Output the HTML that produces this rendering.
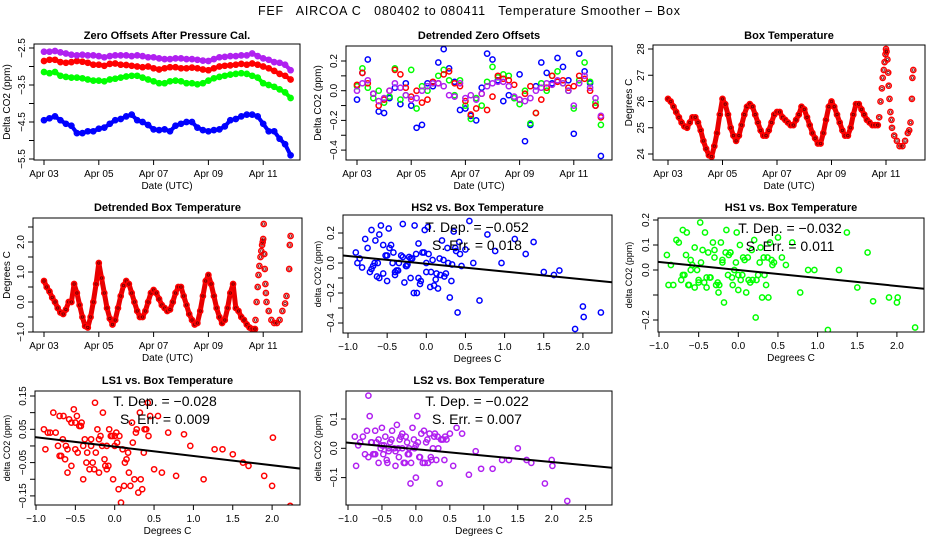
<!DOCTYPE html>
<html><head><meta charset="utf-8"><style>
html,body{margin:0;padding:0;background:#fff}
svg{display:block;font-family:"Liberation Sans",sans-serif}
</style></head><body>
<svg id="chart" width="936" height="540" viewBox="0 0 936 540" xmlns="http://www.w3.org/2000/svg">
<rect width="936" height="540" fill="#fff"/>
<text x="469" y="15" text-anchor="middle" font-size="12.5" textLength="422" style="white-space:pre">FEF   AIRCOA C   080402 to 080411   Temperature Smoother – Box</text>
</svg>
<script>
// ---------- data ----------
const dateTicks = [0, 2, 4, 6, 8];
const dateTickLabels = ["Apr 03", "Apr 05", "Apr 07", "Apr 09", "Apr 11"];
const offTimes = [0,0.2,0.4,0.6,0.8,1,1.2,1.4,1.6,1.8,2,2.2,2.4,2.6,2.8,3,3.2,3.4,3.6,3.8,4,4.2,4.4,4.6,4.8,5,5.2,5.4,5.6,5.8,6,6.2,6.4,6.6,6.8,7,7.2,7.4,7.6,7.8,8,8.2,8.4,8.6,8.8,9];
const zeroLS2 = [-2.6,-2.6,-2.58,-2.62,-2.65,-2.68,-2.7,-2.68,-2.7,-2.7,-2.72,-2.75,-2.72,-2.7,-2.7,-2.7,-2.72,-2.7,-2.72,-2.75,-2.75,-2.78,-2.8,-2.8,-2.78,-2.78,-2.8,-2.8,-2.82,-2.84,-2.85,-2.8,-2.75,-2.74,-2.72,-2.72,-2.7,-2.7,-2.65,-2.72,-2.78,-2.82,-2.88,-2.9,-2.95,-3.1];
const zeroLS1 = [-2.85,-2.82,-2.82,-2.88,-2.9,-2.88,-2.85,-2.87,-2.9,-2.95,-2.95,-2.98,-2.93,-2.92,-2.95,-2.96,-2.98,-3.0,-3.02,-3.0,-3.05,-3.08,-3.05,-3.02,-3.02,-3.05,-3.05,-3.03,-3.05,-3.08,-3.1,-3.05,-3.0,-2.98,-2.97,-2.95,-2.93,-2.95,-2.92,-2.95,-3.0,-3.05,-3.12,-3.2,-3.25,-3.35];
const zeroHS1 = [-3.15,-3.18,-3.15,-3.25,-3.28,-3.3,-3.3,-3.32,-3.35,-3.38,-3.38,-3.4,-3.35,-3.33,-3.3,-3.27,-3.25,-3.25,-3.3,-3.35,-3.4,-3.45,-3.45,-3.4,-3.38,-3.4,-3.45,-3.45,-3.48,-3.45,-3.38,-3.32,-3.28,-3.25,-3.22,-3.2,-3.18,-3.2,-3.25,-3.3,-3.45,-3.5,-3.55,-3.62,-3.7,-3.85];
const zeroHS2 = [-4.45,-4.4,-4.35,-4.45,-4.55,-4.6,-4.8,-4.8,-4.75,-4.75,-4.68,-4.65,-4.55,-4.45,-4.42,-4.35,-4.3,-4.45,-4.5,-4.58,-4.7,-4.72,-4.7,-4.75,-4.6,-4.55,-4.5,-4.5,-4.65,-4.72,-4.75,-4.72,-4.7,-4.62,-4.45,-4.42,-4.35,-4.3,-4.3,-4.35,-4.55,-4.75,-4.75,-4.95,-5.1,-5.4];
const detHS2 = [-0.06,0.12,0.21,-0.02,-0.14,-0.15,-0.05,0.02,-0.09,0.05,-0.1,-0.25,-0.23,0.05,0.03,0.19,0.28,0.15,0.06,-0.13,-0.12,-0.17,-0.2,0.02,0.25,0.21,0.07,-0.07,-0.03,-0.05,0.11,-0.34,-0.23,0.03,0.19,0.12,0.05,0.22,0.16,0.07,-0.29,0.25,0.13,0.05,-0.1,-0.44];
const detLS1 = [0.04,0.12,0.05,-0.02,-0.1,-0.06,0.0,0.14,0.11,0.02,-0.04,0.0,-0.08,-0.06,0.06,0.05,0.11,0.13,0.05,0.03,-0.07,-0.16,-0.12,-0.02,-0.13,-0.04,0.1,0.08,0.07,0.04,-0.06,-0.02,0.03,-0.15,-0.06,0.02,0.1,0.06,0.07,0.02,0.03,0.1,0.08,0.0,-0.1,-0.18];
const detHS1 = [0.03,0.15,0.02,-0.05,0.0,-0.08,-0.04,0.15,-0.06,-0.03,0.14,-0.12,0.03,0.0,0.05,0.1,0.14,0.07,-0.03,0.07,-0.1,-0.19,-0.05,-0.1,0.06,0.16,0.09,0.11,0.1,-0.05,-0.09,0.0,-0.22,-0.15,0.05,0.0,0.1,0.13,0.05,0.0,-0.12,0.07,0.19,0.06,-0.08,-0.23];
const detLS2 = [0.0,0.05,0.07,-0.02,-0.07,-0.05,0.0,0.05,0.02,-0.03,-0.06,-0.05,0.0,0.03,0.05,0.05,0.03,-0.03,-0.04,0.05,-0.05,-0.03,-0.06,-0.02,0.03,0.05,0.06,0.06,0.03,-0.04,-0.06,-0.07,-0.05,0.0,0.02,0.05,0.04,0.07,0.05,0.0,-0.1,0.05,0.1,0.02,-0.05,-0.17];
const tempTimes = [0,0.1,0.2,0.3,0.4,0.5,0.6,0.7,0.8,0.9,1,1.1,1.2,1.3,1.4,1.5,1.6,1.7,1.8,1.9,2,2.1,2.2,2.3,2.4,2.5,2.6,2.7,2.8,2.9,3,3.1,3.2,3.3,3.4,3.5,3.6,3.7,3.8,3.9,4,4.1,4.2,4.3,4.4,4.5,4.6,4.7,4.8,4.9,5,5.1,5.2,5.3,5.4,5.5,5.6,5.7,5.8,5.9,6,6.1,6.2,6.3,6.4,6.5,6.6,6.7,6.8,6.9,7,7.1,7.2,7.3,7.4,7.5,7.6,7.7];
const boxTemp = [26.1,26.0,25.8,25.6,25.4,25.2,25.05,25.0,25.2,25.4,25.4,25.2,24.9,24.5,24.2,23.95,23.9,24.3,24.8,25.5,26.1,25.9,25.5,25.0,24.7,24.5,24.7,25.1,25.5,25.8,25.9,25.8,25.5,25.2,24.9,24.7,24.7,24.9,25.2,25.5,25.6,25.6,25.4,25.3,25.2,25.1,25.1,25.3,25.5,25.8,25.7,25.4,25.1,24.8,24.6,24.4,24.4,24.8,25.3,25.8,26.0,25.8,25.5,25.2,24.9,24.7,24.7,25.0,25.5,25.9,25.9,25.7,25.5,25.3,25.2,25.1,25.1,25.1];
const spikeTimes = [7.75,7.8,7.85,7.88,7.92,7.95,7.98,8.0,8.02,8.05,8.08,8.1,8.13,8.16,8.2,8.22,8.3,8.4,8.5,8.6,8.7,8.8,8.85,8.9,8.95,8.97,9.0];
const spikeTemp = [25.4,26.0,26.5,26.9,27.2,27.5,27.8,28.0,27.9,27.6,27.1,26.6,26.1,25.6,25.3,25.0,24.7,24.5,24.3,24.3,24.5,24.8,24.9,25.2,26.1,26.9,27.2];
const detTemp = [0.7,0.5,0.35,0.15,0.0,-0.2,-0.35,-0.4,-0.25,0.0,0.0,0.6,0.3,-0.1,-0.5,-0.8,-0.85,-0.5,0.0,0.6,1.3,0.8,0.3,-0.2,-0.55,-0.75,-0.6,-0.2,0.2,0.55,0.7,0.6,0.3,0.0,-0.3,-0.5,-0.5,-0.3,0.0,0.3,0.4,0.3,0.1,-0.1,-0.2,-0.3,-0.25,0.0,0.3,0.5,0.5,0.2,-0.1,-0.4,-0.6,-0.75,-0.7,-0.3,0.2,0.7,0.9,0.6,0.2,-0.2,-0.5,-0.7,-0.6,-0.2,0.3,0.6,-0.2,-0.3,-0.5,-0.6,-0.75,-0.85,-0.9,-0.9];
const detSpikeTimes = [7.72,7.76,7.8,7.83,7.86,7.9,7.93,7.96,7.98,8.0,8.02,8.04,8.06,8.08,8.1,8.12,8.2,8.3,8.4,8.5,8.6,8.7,8.8,8.85,8.95,8.97,9.0];
const detSpikeTemp = [-0.6,0.0,0.5,0.9,1.2,1.5,1.7,1.9,2.0,2.1,2.6,1.6,1.1,0.6,0.3,0.0,-0.3,-0.6,-0.7,-0.7,-0.6,-0.3,-0.05,0.2,1.1,1.9,2.2];
const scatterTemp = [-0.9,-0.88,-0.82,-0.78,-0.75,-0.72,-0.7,-0.68,-0.65,-0.63,-0.6,-0.58,-0.55,-0.52,-0.5,-0.48,-0.45,-0.42,-0.4,-0.38,-0.35,-0.32,-0.3,-0.28,-0.25,-0.22,-0.2,-0.18,-0.15,-0.12,-0.1,-0.08,-0.05,-0.02,0.0,0.02,0.05,0.08,0.1,0.12,0.15,0.18,0.2,0.22,0.25,0.28,0.3,0.32,0.35,0.38,0.4,0.42,0.45,0.5,0.55,0.6,0.68,0.78,0.88,0.96,1.13,1.27,1.37,1.5,1.63,1.7,1.9,2.0,2.01,2.23,-0.85,-0.7,-0.66,-0.6,-0.55,-0.47,-0.43,-0.36,-0.3,-0.26,-0.2,-0.16,-0.13,-0.07,-0.03,0.03,0.06,0.13,0.17,0.23,0.27,0.33,0.37,0.43,-0.62,-0.5,-0.4,-0.24,-0.1,0.0];
const scatHS2 = [0.07,0.0,-0.03,0.16,0.1,-0.06,0.22,-0.02,0.15,-0.09,0.19,0.25,-0.07,0.05,-0.12,0.23,0.12,0.07,-0.08,-0.05,0.0,0.05,0.26,-0.13,-0.02,0.04,-0.1,0.03,0.25,-0.2,0.13,-0.14,0.07,0.22,-0.06,0.24,-0.16,0.02,-0.15,-0.11,-0.17,-0.08,0.15,0.02,-0.07,0.0,-0.23,-0.12,0.21,0.08,-0.33,0.14,-0.02,0.09,0.28,0.0,-0.25,0.19,0.08,0.0,0.16,0.06,0.14,-0.06,-0.08,-0.05,-0.44,-0.29,-0.36,-0.33,0.03,-0.04,0.0,-0.1,0.12,0.1,0.0,-0.05,0.04,-0.02,0.03,-0.2,0.06,-0.12,0.07,0.06,-0.06,-0.07,0.03,-0.09,0.1,-0.01,0.1,0.06,0.0,0.05,-0.06,-0.01,-0.1,0.0];
const scatHS1 = [0.06,-0.06,-0.06,0.12,0.11,-0.04,0.16,-0.02,0.15,-0.06,0.04,0.02,-0.07,0.0,-0.05,0.19,0.08,0.15,-0.07,0.07,-0.03,0.11,0.05,-0.06,-0.09,0.11,0.04,-0.13,0.16,0.06,0.07,-0.03,0.0,0.15,-0.08,0.1,-0.02,0.04,-0.09,0.05,-0.05,-0.04,0.12,-0.19,-0.02,0.09,-0.11,0.05,-0.06,-0.11,0.11,0.04,0.03,0.13,0.05,0.02,0.11,-0.09,0.0,0.0,-0.24,0.0,0.15,-0.07,0.07,-0.125,-0.11,-0.13,-0.11,-0.23,0.02,-0.02,0.06,0.0,0.09,0.03,-0.05,-0.03,0.08,-0.05,0.03,0.07,-0.02,-0.06,0.03,-0.04,0.05,-0.04,0.08,-0.04,0.03,-0.02,0.05,0.02,-0.06,-0.04,-0.03,-0.06,0.07,-0.02];
const scatLS1 = [0.05,-0.01,0.04,0.1,0.04,0.0,0.09,-0.03,0.09,-0.04,-0.08,0.08,-0.06,0.11,-0.01,0.09,0.06,0.07,-0.1,0.02,-0.02,-0.07,0.0,-0.05,0.13,0.05,-0.08,0.03,0.1,-0.06,0.0,-0.06,0.03,-0.1,0.0,0.04,-0.13,-0.17,-0.01,-0.12,-0.04,-0.08,-0.12,0.07,-0.1,0.05,-0.14,0.1,-0.13,0.05,0.05,0.13,0.09,-0.07,0.09,-0.08,0.04,-0.09,0.035,0.0,-0.1,-0.01,-0.01,-0.025,-0.05,-0.06,-0.09,-0.12,0.025,-0.18,0.04,-0.03,0.02,-0.01,0.07,-0.02,0.06,-0.05,0.02,-0.07,0.02,0.0,-0.04,0.05,0.03,0.01,0.03,-0.05,-0.02,0.01,0.04,-0.1,-0.02,0.03,0.0,0.07,0.0,-0.02,-0.07,0.03];
const scatLS2 = [0.04,-0.06,0.02,0.04,-0.02,0.06,0.18,0.11,0.02,-0.02,0.06,0.02,-0.05,0.0,0.07,-0.02,0.04,-0.05,0.0,0.02,0.06,0.0,-0.06,0.08,-0.03,0.04,0.0,-0.05,0.04,-0.02,0.0,-0.12,0.07,0.0,-0.1,0.11,-0.03,0.05,-0.05,0.06,0.02,-0.05,0.05,-0.03,0.0,0.05,-0.04,0.04,-0.12,0.03,0.03,-0.04,0.03,0.05,-0.06,0.07,0.05,-0.09,-0.01,-0.07,-0.07,-0.04,-0.04,0.0,-0.04,-0.05,-0.12,-0.04,-0.06,-0.18,0.01,-0.03,0.02,-0.02,0.03,0.01,-0.04,0.03,-0.01,0.0,0.05,-0.05,0.02,-0.05,0.03,0.02,-0.03,-0.05,0.03,-0.04,0.04,0.0,0.03,0.04,-0.02,0.01,-0.01,0.03,-0.02,0.01];
const fitSlopes = [-0.052, -0.032, -0.028, -0.022];
const fitIntercepts = [-0.005, 0.0, -0.002, -0.003];
const fitLabels = ["−0.052", "−0.032", "−0.028", "−0.022"];
const errLabels = ["0.018", "0.011", "0.009", "0.007"];

// ---------- drawing ----------
const NS = "http://www.w3.org/2000/svg";
const svg = document.getElementById("chart");
const BLUE = "#0000ff", RED = "#ff0000", GREEN = "#00ff00", PURPLE = "#b020f0";
function el(tag, attrs, parent) {
  const e = document.createElementNS(NS, tag);
  for (const k in attrs) e.setAttribute(k, attrs[k]);
  (parent || svg).appendChild(e);
  return e;
}
function fmt(v, d) { const s = v.toFixed(d); return v < 0 ? "−" + s.slice(1) : s; }

function panel(c) {
  const g = el("g", {});
  
  
  const [L, T, R, B] = c.box;
  const sx = v => c.x0 + (v - c.xv0) * c.kx;
  const sy = v => c.y0 - (v - c.yv0) * c.ky;
  const t = el("text", {x: (L + R) / 2, y: c.titleY, "text-anchor": "middle", "font-size": 11, "font-weight": "bold"}, g);
  t.textContent = c.title;
  
  
  const xa = el("g", {stroke: "#000", "stroke-width": 1}, g);
  
  
  el("line", {x1: sx(c.xticks[0]), x2: sx(c.xticks[c.xticks.length - 1]), y1: B, y2: B}, xa);
  c.xticks.forEach((v, i) => {
    const tk = el("line", {x1: sx(v), x2: sx(v), y1: B, y2: B + 5}, xa);
    
    
    const lb = el("text", {x: sx(v), y: B + 17, "text-anchor": "middle", "font-size": 10, stroke: "none"}, xa);
    lb.textContent = c.xlabels[i];
    
    
  });
  const xt = el("text", {x: (L + R) / 2, y: B + 29, "text-anchor": "middle", "font-size": 10}, g);
  xt.textContent = c.xlab;
  
  
  const ya = el("g", {stroke: "#000", "stroke-width": 1}, g);
  
  
  el("line", {x1: L, x2: L, y1: sy(c.yticks[0]), y2: sy(c.yticks[c.yticks.length - 1])}, ya);
  c.yticks.forEach((v, i) => {
    const tk = el("line", {x1: L - 5, x2: L, y1: sy(v), y2: sy(v)}, ya);
    
    
    if (c.ylabels[i] !== "") {
      const lb = el("text", {x: L - 9, y: sy(v), "text-anchor": "middle", "font-size": 10, stroke: "none", transform: `rotate(-90 ${L - 9} ${sy(v)})`}, ya);
      lb.textContent = c.ylabels[i];
      
      
    }
  });
  const yt = el("text", {x: c.ylabX, y: (T + B) / 2, "text-anchor": "middle", "font-size": c.ylabSize || 10, transform: `rotate(-90 ${c.ylabX} ${(T + B) / 2})`}, g);
  yt.textContent = c.ylab;
  
  
  const cid = "clip-" + c.name;
  const cp = el("clipPath", {id: cid}, g);
  el("rect", {x: L, y: T, width: R - L, height: B - T}, cp);
  const plot = el("g", {"clip-path": `url(#${cid})`}, g);
  
  
  const frame = el("rect", {x: L, y: T, width: R - L, height: B - T, fill: "none", stroke: "#000", "stroke-width": 1}, g);
  
  
  return {g, plot, sx, sy};
}
function band(p, xs, ys, color, name, w) {
  let d = "";
  for (let i = 0; i < xs.length; i++) d += (i ? "L" : "M") + p.sx(xs[i]).toFixed(1) + " " + p.sy(ys[i]).toFixed(1);
  const pa = el("path", {d: d, fill: "none", stroke: color, "stroke-width": w, "stroke-linejoin": "round", "stroke-linecap": "round"}, p.plot);
  
  
}
function points(p, xs, ys, color, name, dark) {
  const sg = el("g", {fill: "none", stroke: color, "stroke-width": 1.5}, p.plot);
  
  
  for (let i = 0; i < xs.length; i++) {
    const c = el("circle", {cx: p.sx(xs[i]).toFixed(1), cy: p.sy(ys[i]).toFixed(1), r: 2.6}, sg);
    
    
    if (dark) {
      const d = el("circle", {cx: p.sx(xs[i]).toFixed(1), cy: p.sy(ys[i]).toFixed(1), r: 1.2, stroke: "#600", "stroke-width": 0.7}, sg);
      
      
    }
  }
}
function fitLine(p, k, x1, x2) {
  const ln = el("line", {x1: p.sx(x1), x2: p.sx(x2), y1: p.sy(fitIntercepts[k] + fitSlopes[k] * x1), y2: p.sy(fitIntercepts[k] + fitSlopes[k] * x2), stroke: "#000", "stroke-width": 2}, p.plot);
  
  
}
function annot(p, k, cx, y) {
  const a = el("text", {x: cx, y: y, "text-anchor": "middle", "font-size": 14}, p.g);
  a.textContent = "T. Dep. =  " + fitLabels[k];
  
  
  const b = el("text", {x: cx, y: y + 18, "text-anchor": "middle", "font-size": 14}, p.g);
  b.textContent = "S. Err. =  " + errLabels[k];
  
  
}
function range(a, b, s) { const r = []; for (let v = a; v <= b + 1e-9; v += s) r.push(+v.toFixed(4)); return r; }

// Panel 1
const p1 = panel({name: "zero-offsets-panel", box: [34, 44, 300, 160], x0: 44, xv0: 0, kx: 27.4, y0: 48, yv0: -2.5, ky: 37,
  xticks: dateTicks, xlabels: dateTickLabels, yticks: range(-5.5, -2.5, 0.5),
  ylabels: range(-5.5, -2.5, 0.5).map((v, i) => i % 2 === 0 ? fmt(v, 1) : ""),
  title: "Zero Offsets After Pressure Cal.", titleY: 39, xlab: "Date (UTC)", ylab: "Delta CO2 (ppm)", ylabX: 10});
band(p1, offTimes, zeroHS2, BLUE, "band-hs2", 4);
band(p1, offTimes, zeroHS1, GREEN, "band-hs1", 4);
band(p1, offTimes, zeroLS1, RED, "band-ls1", 4);
band(p1, offTimes, zeroLS2, PURPLE, "band-ls2", 4);
points(p1, offTimes, zeroHS2, BLUE, "series-hs2");
points(p1, offTimes, zeroHS1, GREEN, "series-hs1");
points(p1, offTimes, zeroLS1, RED, "series-ls1");
points(p1, offTimes, zeroLS2, PURPLE, "series-ls2");

// Panel 2
const p2 = panel({name: "detrended-zero-offsets-panel", box: [346, 46, 612, 160], x0: 357, xv0: 0, kx: 27.1, y0: 90.7, yv0: 0, ky: 148.5,
  xticks: dateTicks, xlabels: dateTickLabels, yticks: range(-0.4, 0.2, 0.1),
  ylabels: range(-0.4, 0.2, 0.1).map((v, i) => i % 2 === 0 ? fmt(v, 1) : ""),
  title: "Detrended Zero Offsets", titleY: 39, xlab: "Date (UTC)", ylab: "Delta CO2 (ppm)", ylabX: 321});
points(p2, offTimes, detHS2, BLUE, "series-hs2");
points(p2, offTimes, detHS1, GREEN, "series-hs1");
points(p2, offTimes, detLS1, RED, "series-ls1");
points(p2, offTimes, detLS2, PURPLE, "series-ls2");

// Panel 3
const p3 = panel({name: "box-temperature-panel", box: [653, 45, 925, 160], x0: 668, xv0: 0, kx: 27.25, y0: 154, yv0: 24, ky: 26.25,
  xticks: dateTicks, xlabels: dateTickLabels, yticks: [24, 25, 26, 27, 28], ylabels: ["24", "25", "26", "27", "28"],
  title: "Box Temperature", titleY: 39, xlab: "Date (UTC)", ylab: "Degrees C", ylabX: 632});
band(p3, tempTimes, boxTemp, "#e80000", "band-box-temp", 5);
points(p3, tempTimes, boxTemp, RED, "series-box-temp", true);
points(p3, spikeTimes, spikeTemp, RED, "series-box-temp-spike", true);

// Panel 4
const p4 = panel({name: "detrended-box-temperature-panel", box: [33, 218, 302, 332], x0: 44, xv0: 0, kx: 27.4, y0: 302, yv0: 0, ky: 30,
  xticks: dateTicks, xlabels: dateTickLabels, yticks: range(-1, 2.5, 0.5),
  ylabels: range(-1, 2.5, 0.5).map((v, i) => i % 2 === 0 ? fmt(v, 1) : ""),
  title: "Detrended Box Temperature", titleY: 211, xlab: "Date (UTC)", ylab: "Degrees C", ylabX: 10});
band(p4, tempTimes, detTemp, "#e80000", "band-detrended-temp", 5);
points(p4, tempTimes, detTemp, RED, "series-detrended-temp", true);
points(p4, detSpikeTimes, detSpikeTemp, RED, "series-detrended-temp-spike", true);

const degTicks = range(-1, 2, 0.5), degLabels = degTicks.map(v => fmt(v, 1));
// Panel 5
const p5 = panel({name: "hs2-vs-temperature-panel", box: [343, 215, 612, 333], x0: 348, xv0: -1, kx: 78.3, y0: 233, yv0: 0.2, ky: 150,
  xticks: degTicks, xlabels: degLabels, yticks: range(-0.4, 0.2, 0.1),
  ylabels: range(-0.4, 0.2, 0.1).map((v, i) => i % 2 === 0 ? fmt(v, 1) : ""),
  title: "HS2 vs. Box Temperature", titleY: 211, xlab: "Degrees C", ylab: "delta CO2 (ppm)", ylabX: 321, ylabSize: 9});
points(p5, scatterTemp, scatHS2, BLUE, "scatter-hs2");
fitLine(p5, 0, -1.2, 2.5);
annot(p5, 0, 477, 232);

// Panel 6
const p6 = panel({name: "hs1-vs-temperature-panel", box: [658, 218, 924, 332], x0: 659, xv0: -1, kx: 79.3, y0: 220, yv0: 0.2, ky: 250,
  xticks: degTicks, xlabels: degLabels, yticks: range(-0.2, 0.2, 0.1),
  ylabels: ["−0.2", "", "0.0", "0.1", "0.2"],
  title: "HS1 vs. Box Temperature", titleY: 211, xlab: "Degrees C", ylab: "delta CO2 (ppm)", ylabX: 632, ylabSize: 9});
points(p6, scatterTemp, scatHS1, GREEN, "scatter-hs1");
fitLine(p6, 1, -1.2, 2.5);
annot(p6, 1, 790, 233);

// Panel 7
const p7 = panel({name: "ls1-vs-temperature-panel", box: [35, 391, 300, 505], x0: 36, xv0: -1, kx: 78.7, y0: 396, yv0: 0.15, ky: 333,
  xticks: degTicks, xlabels: degLabels, yticks: range(-0.15, 0.15, 0.05),
  ylabels: range(-0.15, 0.15, 0.05).map((v, i) => i % 2 === 0 ? fmt(v, 2) : ""),
  title: "LS1 vs. Box Temperature", titleY: 384, xlab: "Degrees C", ylab: "delta CO2 (ppm)", ylabX: 10, ylabSize: 9});
points(p7, scatterTemp, scatLS1, RED, "scatter-ls1");
fitLine(p7, 2, -1.2, 2.5);
annot(p7, 2, 165, 406);

// Panel 8
const ls2Ticks = range(-1, 2.5, 0.5);
const p8 = panel({name: "ls2-vs-temperature-panel", box: [346, 391, 612, 505], x0: 348, xv0: -1, kx: 67.9, y0: 419, yv0: 0.1, ky: 293,
  xticks: ls2Ticks, xlabels: ls2Ticks.map(v => fmt(v, 1)), yticks: [-0.1, 0, 0.1], ylabels: ["−0.1", "0.0", "0.1"],
  title: "LS2 vs. Box Temperature", titleY: 384, xlab: "Degrees C", ylab: "delta CO2 (ppm)", ylabX: 321, ylabSize: 9});
points(p8, scatterTemp, scatLS2, PURPLE, "scatter-ls2");
fitLine(p8, 3, -1.2, 3.0);
annot(p8, 3, 477, 406);
</script>
</body></html>
